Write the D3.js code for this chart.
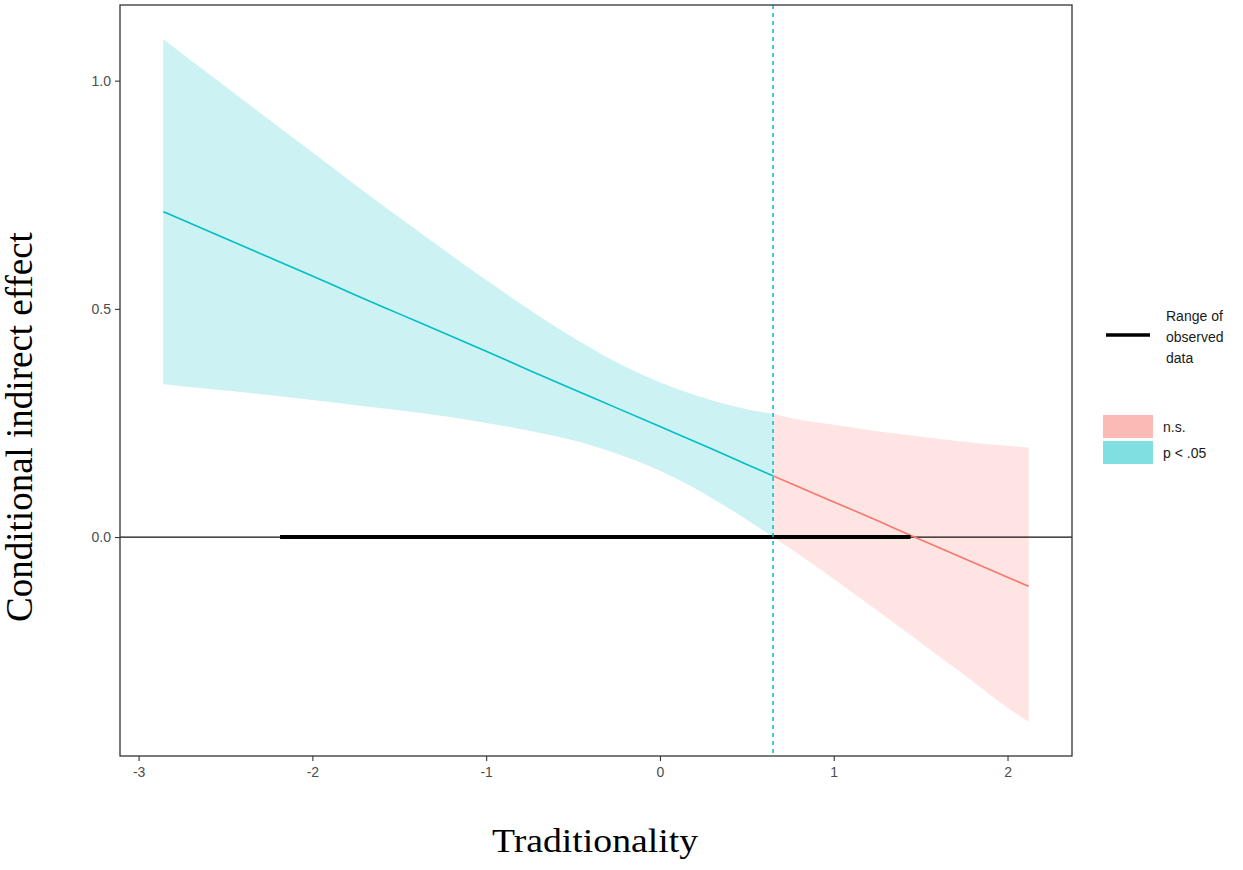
<!DOCTYPE html>
<html>
<head>
<meta charset="utf-8">
<script src="https://cdn.jsdelivr.net/npm/d3@7"></script>
<style>
  body { margin: 0; background: #fff; }
  .tick-label { font-family: Arial, "Liberation Sans", sans-serif; font-size: 14px; fill: #4d4d4d; }
  .axis-title { font-family: "Times New Roman", "Liberation Serif", serif; fill: #000; }
  .legend-text { font-family: Arial, "Liberation Sans", sans-serif; font-size: 14px; fill: #1a1a1a; }
</style>
</head>
<body>
<div id="chart"></div>
<script>
// moderator values and estimates
var modValues = [-2.858, -2.5, -2.25, -2, -1.75, -1.5, -1.25, -1, -0.75, -0.5, -0.25, 0, 0.25, 0.5, 0.651, 0.75, 1, 1.25, 1.5, 1.75, 2, 2.122];
var effect    = [0.713, 0.654, 0.613, 0.572, 0.530, 0.489, 0.448, 0.407, 0.365, 0.324, 0.283, 0.242, 0.201, 0.159, 0.134, 0.118, 0.077, 0.036, -0.006, -0.047, -0.088, -0.108];
var ciUpper   = [1.091, 0.987, 0.915, 0.843, 0.771, 0.700, 0.631, 0.563, 0.498, 0.437, 0.383, 0.339, 0.305, 0.280, 0.270, 0.261, 0.246, 0.232, 0.220, 0.209, 0.200, 0.196];
var ciLower   = [0.335, 0.321, 0.311, 0.300, 0.289, 0.278, 0.265, 0.250, 0.233, 0.212, 0.183, 0.145, 0.096, 0.038, 0.000, -0.025, -0.092, -0.161, -0.231, -0.302, -0.374, -0.405];

var jnPoint = 0.651;               // Johnson-Neyman boundary
var observedRange = [-2.186, 1.442];

var xTicks = [-3, -2, -1, 0, 1, 2];
var xTickLabels = ['-3', '-2', '-1', '0', '1', '2'];
var yTicks = [0, 0.5, 1];
var yTickLabels = ['0.0', '0.5', '1.0'];

var legendRangeLines = ['Range of', 'observed', 'data'];
var legendFillLabels = ['n.s.', 'p < .05'];

function drawJN() {
  var width = 1243, height = 870;
  var panel = { left: 120, right: 1072, top: 5, bottom: 756 };
  var blue = '#00BFC4', red = '#F8766D';

  var svg = d3.select('#chart')
    .append('svg')
    .attr('width', width)
    .attr('height', height);

  var rows = modValues.map(function(v, i) {
    return { x: v, est: effect[i], hi: ciUpper[i], lo: ciLower[i] };
  });

  // ggplot style 5% expansion
  var xExt = d3.extent(modValues);
  var xPad = (xExt[1] - xExt[0]) * 0.05;
  var yExt = [d3.min(ciLower), d3.max(ciUpper)];
  var yPad = (yExt[1] - yExt[0]) * 0.05;

  var x = d3.scaleLinear()
    .domain([xExt[0] - xPad, xExt[1] + xPad])
    .range([panel.left, panel.right]);

  var y = d3.scaleLinear()
    .domain([yExt[0] - yPad, yExt[1] + yPad])
    .range([panel.bottom, panel.top]);

  var sig = rows.filter(function(d) { return d.x <= jnPoint; });
  var ns = rows.filter(function(d) { return d.x >= jnPoint; });

  var area = d3.area()
    .curve(d3.curveMonotoneX)
    .x(function(d) { return x(d.x); })
    .y0(function(d) { return y(d.lo); })
    .y1(function(d) { return y(d.hi); });

  var line = d3.line()
    .curve(d3.curveMonotoneX)
    .x(function(d) { return x(d.x); })
    .y(function(d) { return y(d.est); });

  svg.append('path').datum(sig)
    .attr('d', area).attr('fill', blue).attr('fill-opacity', 0.2);
  svg.append('path').datum(ns)
    .attr('d', area).attr('fill', red).attr('fill-opacity', 0.2);

  // zero reference
  svg.append('line')
    .attr('x1', panel.left).attr('x2', panel.right)
    .attr('y1', y(0)).attr('y2', y(0))
    .attr('stroke', '#111').attr('stroke-width', 1.2);

  svg.append('path').datum(sig)
    .attr('d', line).attr('fill', 'none').attr('stroke', blue).attr('stroke-width', 1.6);
  svg.append('path').datum(ns)
    .attr('d', line).attr('fill', 'none').attr('stroke', red).attr('stroke-width', 1.6);

  // observed range of moderator
  svg.append('line')
    .attr('x1', x(observedRange[0])).attr('x2', x(observedRange[1]))
    .attr('y1', y(0)).attr('y2', y(0))
    .attr('stroke', '#000').attr('stroke-width', 4);

  svg.append('line')
    .attr('x1', x(jnPoint)).attr('x2', x(jnPoint))
    .attr('y1', panel.top).attr('y2', panel.bottom)
    .attr('stroke', blue).attr('stroke-width', 1.5)
    .attr('stroke-dasharray', '4,4');

  // panel border
  svg.append('rect')
    .attr('x', panel.left).attr('y', panel.top)
    .attr('width', panel.right - panel.left)
    .attr('height', panel.bottom - panel.top)
    .attr('fill', 'none').attr('stroke', '#333').attr('stroke-width', 1.3);

  // axes
  var xAxis = svg.append('g')
    .attr('transform', 'translate(0,' + panel.bottom + ')')
    .call(d3.axisBottom(x).tickValues(xTicks).tickSize(5).tickPadding(6)
      .tickFormat(function(d, i) { return xTickLabels[i]; }));
  var yAxis = svg.append('g')
    .attr('transform', 'translate(' + panel.left + ',0)')
    .call(d3.axisLeft(y).tickValues(yTicks).tickSize(5).tickPadding(4)
      .tickFormat(function(d, i) { return yTickLabels[i]; }));

  [xAxis, yAxis].forEach(function(a) {
    a.select('.domain').remove();
    a.selectAll('.tick line').attr('stroke', '#333').attr('stroke-width', 1.1);
    a.selectAll('.tick text').attr('class', 'tick-label');
  });

  svg.append('text')
    .attr('class', 'axis-title')
    .attr('x', 595).attr('y', 852)
    .attr('font-size', 33)
    .attr('text-anchor', 'middle')
    .attr('textLength', 206)
    .attr('lengthAdjust', 'spacingAndGlyphs')
    .text('Traditionality');

  svg.append('text')
    .attr('class', 'axis-title')
    .attr('transform', 'translate(32,427) rotate(-90)')
    .attr('font-size', 37)
    .attr('text-anchor', 'middle')
    .text('Conditional indirect effect');

  // legend
  svg.append('line')
    .attr('x1', 1106).attr('x2', 1150)
    .attr('y1', 335).attr('y2', 335)
    .attr('stroke', '#000').attr('stroke-width', 3.5);

  svg.selectAll('.legend-range')
    .data(legendRangeLines)
    .enter().append('text')
    .attr('class', 'legend-text')
    .attr('x', 1166)
    .attr('y', function(d, i) { return 321 + i * 21; })
    .text(function(d) { return d; });

  var keyColors = [red, blue];
  svg.selectAll('.legend-key')
    .data(legendFillLabels)
    .enter().append('rect')
    .attr('x', 1103)
    .attr('y', function(d, i) { return 415 + i * 26; })
    .attr('width', 50).attr('height', 23)
    .attr('fill', function(d, i) { return keyColors[i]; })
    .attr('fill-opacity', 0.5);

  svg.selectAll('.legend-fill')
    .data(legendFillLabels)
    .enter().append('text')
    .attr('class', 'legend-text')
    .attr('x', 1163)
    .attr('y', function(d, i) { return 432 + i * 26; })
    .text(function(d) { return d; });
}

drawJN();
</script>
</body>
</html>
